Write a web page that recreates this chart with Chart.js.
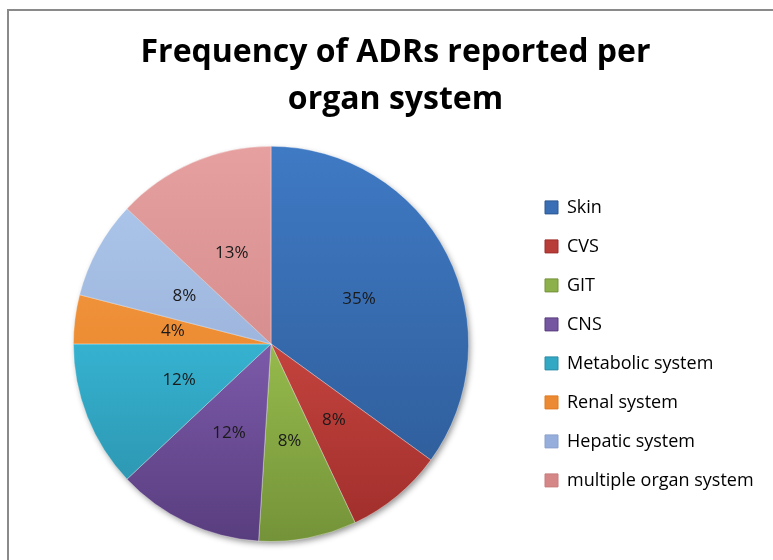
<!DOCTYPE html>
<html>
<head>
<meta charset="utf-8">
<script src="https://cdn.jsdelivr.net/npm/chart.js@4/dist/chart.umd.min.js"></script>
<style>
  html, body { margin: 0; padding: 0; background: #fff; overflow: hidden; }
  #frame {
    position: absolute; left: 7px; top: 9px; width: 800px; height: 600px;
    border-left: 2px solid #8a8a8a; border-top: 2px solid #8a8a8a;
  }
  #wrap { position: absolute; left: 0; top: 0; width: 773px; height: 560px; }
</style>
</head>
<body>
<div id="frame"></div>
<div id="wrap"><canvas id="chart"></canvas></div>
<script>
// data
const categories = ['Skin', 'CVS', 'GIT', 'CNS', 'Metabolic system', 'Renal system', 'Hepatic system', 'multiple organ system'];
const percentages = [35, 8, 8, 12, 12, 4, 8, 13];

// shades for the vertical gradient over the pie, plus flat legend swatches
const topColors = ['#3F7AC4', '#EA5952', '#B8E15F', '#A077D6', '#40D8FA', '#F9A04A', '#B0CAEE', '#E6A0A0'];
const bottomColors = ['#2C5893', '#9E2D2A', '#749339', '#583D7E', '#2A8CA6', '#E07A1E', '#8CA2CC', '#C87C7C'];
const legendColors = ['#3A6FB5', '#B83D39', '#8DB04A', '#7556A0', '#33A8C5', '#EC8A33', '#95AEDB', '#D58787'];

const LEGEND_WIDTH = 249;

function sliceFill(ctx) {
  const i = ctx.dataIndex;
  const area = ctx.chart.chartArea;
  if (!area) return legendColors[i];
  const g = ctx.chart.ctx.createLinearGradient(0, area.top, 0, area.bottom);
  g.addColorStop(0, topColors[i]);
  g.addColorStop(1, bottomColors[i]);
  return g;
}

// soft shadow behind the whole pie
const pieShadow = {
  id: 'pieShadow',
  beforeDatasetsDraw(chart) {
    const arc = chart.getDatasetMeta(0).data[0];
    if (!arc) return;
    const c = chart.ctx;
    c.save();
    c.shadowColor = 'rgba(0,0,0,0.45)';
    c.shadowBlur = 6;
    c.shadowOffsetX = 2;
    c.shadowOffsetY = 3;
    c.fillStyle = '#777';
    c.beginPath();
    c.arc(arc.x, arc.y, arc.outerRadius - 1, 0, Math.PI * 2);
    c.fill();
    c.restore();
  }
};

// percentage labels in the middle of each slice
const sliceLabels = {
  id: 'sliceLabels',
  afterDatasetsDraw(chart) {
    const c = chart.ctx;
    c.save();
    c.font = '17px "Open Sans"';
    c.fillStyle = '#1a1a1a';
    c.textAlign = 'center';
    c.textBaseline = 'middle';
    chart.getDatasetMeta(0).data.forEach((el, i) => {
      const p = el.tooltipPosition();
      c.fillText(percentages[i] + '%', p.x, p.y);
    });
    c.restore();
  }
};

// legend keeps a fixed width so the pie and title sit where the original has them
const legendWidth = {
  id: 'legendWidth',
  beforeLayout(chart) {
    const lg = chart.legend;
    if (!lg || lg._fixedWidth) return;
    const fit = lg.fit.bind(lg);
    lg.fit = function () { fit(); this.width = LEGEND_WIDTH; };
    lg._fixedWidth = true;
  }
};

new Chart(document.getElementById('chart'), {
  type: 'pie',
  data: {
    labels: categories,
    datasets: [{
      data: percentages,
      backgroundColor: sliceFill,
      borderColor: 'rgba(255,255,255,0.35)',
      borderWidth: 1,
    }],
  },
  options: {
    responsive: true,
    maintainAspectRatio: false,
    animation: false,
    layout: { padding: { left: 18, right: 0, bottom: 18, top: 0 } },
    plugins: {
      title: {
        display: true,
        text: ['Frequency of ADRs reported per', 'organ system'],
        font: { family: 'Open Sans', size: 32, weight: 'bold', lineHeight: 1.45 },
        color: '#000',
        padding: { top: 30, bottom: 23 },
      },
      legend: {
        position: 'right',
        align: 'center',
        fullSize: false,
        labels: {
          boxWidth: 13,
          boxHeight: 13,
          padding: 21,
          color: '#333',
          font: { family: 'Open Sans', size: 18 },
          generateLabels() {
            return categories.map((name, i) => ({
              text: name,
              fillStyle: legendColors[i],
              strokeStyle: bottomColors[i],
              lineWidth: 1,
              index: i,
            }));
          },
        },
      },
      tooltip: { enabled: false },
    },
  },
  plugins: [pieShadow, sliceLabels, legendWidth],
});
</script>
</body>
</html>
